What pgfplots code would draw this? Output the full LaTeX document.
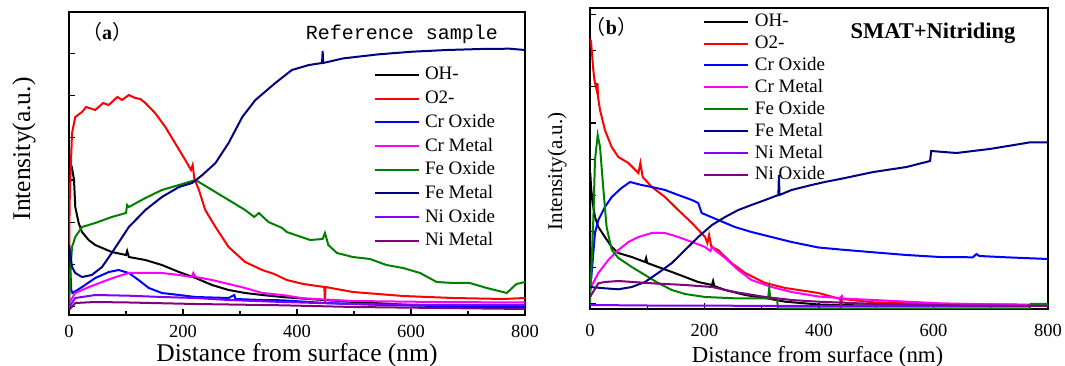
\documentclass[border=0pt]{standalone}
\usepackage{fontspec}
\setmainfont{Liberation Serif}
\newfontfamily\monofont{Liberation Mono}
\newfontfamily\cjk{Noto Sans CJK SC}
\usepackage{pgfplots}
\pgfplotsset{compat=1.18}
\definecolor{cblack}{RGB}{0,0,0}
\definecolor{cred}{RGB}{255,0,0}
\definecolor{cblue}{RGB}{0,0,255}
\definecolor{cmag}{RGB}{255,0,255}
\definecolor{cgreen}{RGB}{0,128,0}
\definecolor{cnavy}{RGB}{0,0,128}
\definecolor{cviolet}{RGB}{128,0,255}
\definecolor{cpurple}{RGB}{128,0,128}
\pgfplotsset{
  lw/.style={line width=2bp},
  myaxis/.style={
    scale only axis,
    xmin=0, xmax=800, ymin=0,
    axis line style={line width=1.5bp},
    tick align=inside,
    tick pos=left,
    xtick={0,200,...,800},
    minor xtick={100,300,500,700},
    major tick length=6bp, minor tick length=4bp,
    every tick/.style={black, line width=1.2bp},
    yticklabels={},
    /pgf/number format/assume math mode=true,
    xticklabel style={font=\fontsize{18.5bp}{18.5bp}\selectfont, anchor=base},
    legend image code/.code={\draw[#1] (0bp,0bp) -- (44bp,0bp);},
    legend cell align=left,
  }
}
\begin{document}
\begin{tikzpicture}
\path[use as bounding box] (0,0) rectangle (1065bp,366bp);
% ---------------- panel (a)
\begin{axis}[myaxis,
  at={(69bp,51bp)}, anchor=south west,
  width=456bp, height=303bp, ymax=303,
  ytick={8.3,50.5,92.7,134.9,177.1,219.3,261.5},
  xticklabel style={yshift=-22bp},
  xlabel={Distance from surface (nm)},
  ylabel={Intensity(a.u.)},
  xlabel style={font=\fontsize{25.5bp}{25.5bp}\selectfont, at={(axis description cs:0.5,-0.155)}, anchor=base},
  ylabel style={font=\fontsize{25.5bp}{25.5bp}\selectfont, at={(axis description cs:-0.0855,0.548)}, anchor=base},
  legend style={draw=none, fill=none, inner sep=0pt, outer sep=0pt,
    font=\fontsize{19bp}{19bp}\selectfont, row sep=5.7bp,
    nodes={inner sep=0pt, text height=14bp, text depth=4bp},
    /tikz/every odd column/.append style={column sep=5bp},
    at={(0.6689,0.8218)}, anchor=north west},
]
\addplot[cblack, lw] coordinates {(0,150) (1,152) (5,148) (8.8,135) (11,108) (17,92) (22.8,83) (34.5,75) (46,70) (75,63) (100,60) (102,64) (105,58) (134,55) (163,50) (193,43) (222,37) (251,30) (280,25) (309,22) (339,20) (374,18) (420,16) (500,13) (600,10) (700,8) (770,8) (800,10)};
\addlegendentry{OH-}
\addplot[cred, lw] coordinates {(0,20) (0.5,68) (1,110) (2.3,135) (5.3,182) (11,198) (22.8,203) (30,208) (46,205) (60,212) (69.6,210) (85,218) (93,215) (105,220) (116,217) (125,216) (134,212) (151,202) (169,188) (186,172) (204,155) (214,145) (217,150) (220,136) (228,125) (239,105) (257,88) (280,68) (309,53) (339,45) (360,41) (382,35) (411,31) (448,28) (449,12) (450,28) (498,23) (586,19) (674,17) (762,16) (800,17)};
\addlegendentry{O2-}
\addplot[cblue, lw] coordinates {(0,68) (2,50) (4,25) (6,22) (23,28) (46,37) (70,43) (87,45) (105,42) (122,35) (140,27) (163,22) (193,20) (222,18) (280,17) (290,20) (292,16) (339,15) (374,14.7) (450,12) (550,10) (650,9) (800,8)};
\addlegendentry{Cr Oxide}
\addplot[cmag, lw] coordinates {(0,12) (11,22) (35,28) (58,33) (82,38) (105,42) (134,42) (163,42) (193,40) (215,38) (218,42) (222,38) (251,35) (280,31) (309,27) (339,22) (374,20) (411,16.7) (498,14) (645,13) (800,12.5)};
\addlegendentry{Cr Metal}
\addplot[cgreen, lw] coordinates {(0,5) (2,40) (5.3,68) (11,78) (22.8,88) (46,92) (75,98) (100,102) (102,110) (105,108) (134,117) (163,125) (193,130) (222,135) (251,125) (280,115) (309,105) (325,98) (333,102) (350,93) (374,87) (382,83) (423,75) (445,76) (449,82) (455,70) (470,62) (498,58) (528,56) (557,50) (586,47) (616,42) (645,33) (674,32) (703,32) (733,27) (768,22) (785,31) (800,33)};
\addlegendentry{Fe Oxide}
\addplot[cnavy, lw] coordinates {(0,70) (5.3,48) (11,42) (22.8,38) (40,40) (58,48) (75,62) (105,88) (134,105) (163,118) (193,128) (216,132) (234,140) (257,152) (280,172) (304,198) (327,215) (362,232) (391,245) (421,250) (444,252) (445,264) (446,252) (481,256.6) (542,260.6) (602,263.3) (663,265) (723,266) (773,266.3) (800,265)};
\addlegendentry{Fe Metal}
\addplot[cviolet, lw] coordinates {(0,8) (11,17) (46,20) (105,19.3) (163,18) (222,17) (280,15) (374,13) (500,11) (650,10) (800,10)};
\addlegendentry{Ni Oxide}
\addplot[cpurple, lw] coordinates {(0,5) (11,12) (46,13) (105,12.5) (222,11) (374,9.7) (500,8) (650,7) (800,6)};
\addlegendentry{Ni Metal}
\end{axis}
% ---------------- panel (b)
\begin{axis}[myaxis,
  at={(590bp,57bp)}, anchor=south west,
  width=458bp, height=301bp, ymax=301,
  ytick={5,41.2,77.4,113.6,149.8,186,222.2,258.4,294.6},
  xticklabel style={yshift=-27.5bp},
  xlabel={Distance from surface (nm)},
  ylabel={Intensity(a.u.)},
  xlabel style={font=\fontsize{22.8bp}{22.8bp}\selectfont, at={(axis description cs:0.497,-0.179)}, anchor=base},
  ylabel style={font=\fontsize{21bp}{21bp}\selectfont, at={(axis description cs:-0.0611,0.457)}, anchor=base},
  legend style={draw=none, fill=none, inner sep=0pt, outer sep=0pt,
    font=\fontsize{19bp}{19bp}\selectfont, row sep=3.9bp,
    nodes={inner sep=0pt, text height=14bp, text depth=4bp},
    /tikz/every odd column/.append style={column sep=6bp},
    at={(0.2467,0.9844)}, anchor=north west},
]
\addplot[cblack, lw] coordinates {(0,40) (0.5,136) (2,120) (5.8,102) (8.7,92) (14.6,82) (26,72) (38,62) (49.5,56) (73,52) (96,47) (98,51) (100,46) (119,42) (143,37) (166,32) (189,27) (213,24) (215,28) (217,23) (236,19) (271,14) (306,11) (341,7.3) (399,4.5) (450,3.8) (550,3.3) (800,3)};
\addlegendentry{OH-}
\addplot[cred, lw] coordinates {(0,270) (1.7,268) (5.8,239) (8,228) (11.6,219) (13,226) (14,212) (17.5,199) (26,179) (37.8,162) (49.5,152) (67,146) (84.5,136) (88,146) (92,132) (108,122) (131,112) (154,99) (178,86) (201,72) (205,66) (208,74) (212,62) (224,59) (247,46) (271,36) (306,26) (341,21) (399,16) (437,10) (438,1) (440,10) (495,6.7) (611,5) (800,4.3)};
\addlegendentry{O2-}
\addplot[cblue, lw] coordinates {(0,20) (2,30) (5.8,56) (8.7,76) (14.6,89) (26,102) (38,112) (55,121) (70,127) (90,124) (108,122) (131,119) (154,114) (178,109) (189,106) (195,96) (224,89) (253,82) (282,77) (317,72) (352,67) (399,61.5) (437,59.5) (495,56.7) (553,54) (611,52) (669,51.7) (675,55) (680,53) (727,51.7) (800,50)};
\addlegendentry{Cr Oxide}
\addplot[cmag, lw] coordinates {(0,20) (14.6,36) (32,49) (49.5,59) (67,67) (84.5,72) (108,76) (131,76) (154,72) (178,67) (201,62) (210,58) (214,62) (218,59) (236,51) (259,39) (282,29) (317,22) (352,17) (399,12.5) (437,11) (440,13) (442,10.5) (495,9) (611,5.7) (800,3.3)};
\addlegendentry{Cr Metal}
\addplot[cgreen, lw] coordinates {(0,6) (5.8,89) (8.7,149) (13.4,174) (17.5,162) (23,122) (29,82) (38,59) (49.5,51) (73,42) (96,34) (119,26) (143,19) (166,15) (201,12) (253,10.7) (311,10.7) (313,20.7) (315,10.7) (327,10.5) (328,0.5) (768,0.5) (770,5) (800,5)};
\addlegendentry{Fe Oxide}
\addplot[cnavy, lw] coordinates {(0,22) (26,20.7) (49.5,19.7) (73,22) (96,27) (119,36) (143,46) (166,59) (189,72) (213,84) (236,92) (259,99) (282,104) (306,109) (329,114) (330,134) (331,114) (352,119) (387,124) (410,127) (437,130) (495,137) (553,142) (594,148) (596,158) (640,156) (698,160) (762,166) (768,166.7) (800,166.7)};
\addlegendentry{Fe Metal}
\addplot[cviolet, lw] coordinates {(0,4) (100,3.5) (400,3) (800,3)};
\addlegendentry{Ni Metal}
\addplot[cpurple, lw] coordinates {(0,12) (14.6,25.7) (26,27) (49.5,28) (108,25.7) (166,24) (213,22) (253,17) (306,12) (352,9) (399,7.3) (500,5) (650,3.5) (800,3)};
\addlegendentry{Ni Oxide}
\end{axis}
% ---------------- annotations
\node[anchor=base, inner sep=0pt, font=\fontsize{20bp}{20bp}\selectfont] at (107bp,326bp) {{\cjk （}\textbf{a}{\cjk ）}};
\node[anchor=base, inner sep=0pt, font=\fontsize{20bp}{20bp}\selectfont] at (611.5bp,331bp) {{\cjk （}\textbf{b}{\cjk ）}};
\node[anchor=base, inner sep=0pt, font=\monofont\fontsize{20bp}{20bp}\selectfont] at (402bp,326bp) {Reference sample};
\node[anchor=base, inner sep=0pt, font=\bfseries\fontsize{22.5bp}{22.5bp}\selectfont] at (933bp,327.5bp) {SMAT+Nitriding};
\end{tikzpicture}
\end{document}
